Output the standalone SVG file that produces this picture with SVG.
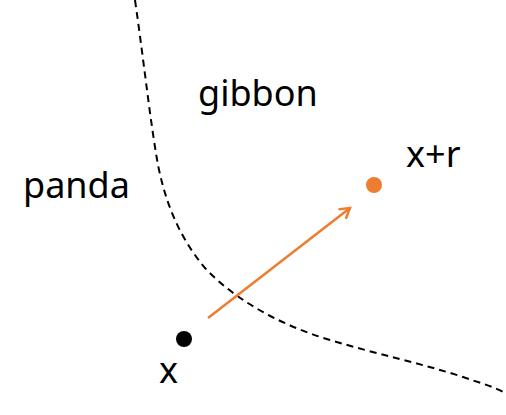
<svg xmlns="http://www.w3.org/2000/svg" width="506" height="415" viewBox="0 0 506 415">
<style>
.lbl{font-family:"Noto Sans","Open Sans",sans-serif;font-size:36px;fill:#000}
.bd{fill:none;stroke:#000;stroke-width:2;stroke-dasharray:7,5}
.arr{fill:none;stroke:#ED7D31;stroke-width:2.5}
</style>
<defs>
<marker id="ah" markerWidth="14" markerHeight="14" refX="11" refY="7" orient="auto" markerUnits="userSpaceOnUse">
<path d="M1,1 L11,7 L1,13" fill="none" stroke="#ED7D31" stroke-width="2.5"/>
</marker>
</defs>
<g id="connectors">
<path class="bd" d="M135,0 C145,70 150,120 158,165 C166,205 180,238 205,268 C235,300 280,325 330,340 C380,355 420,363 463,377 C480,383 495,387 505,393"/>
<path class="arr" d="M208,318 L350,208" marker-end="url(#ah)"/>
</g>
<g id="x"><circle cx="184" cy="339" r="8" fill="#000"/><text class="lbl" x="159" y="383">x</text></g>
<g id="xr"><circle cx="374" cy="185" r="8" fill="#ED7D31"/><text class="lbl" x="406" y="167">x+r</text></g>
<g id="gibbon"><text class="lbl" x="198" y="106">gibbon</text></g>
<g id="panda"><text class="lbl" x="23" y="198">panda</text></g>
</svg>
